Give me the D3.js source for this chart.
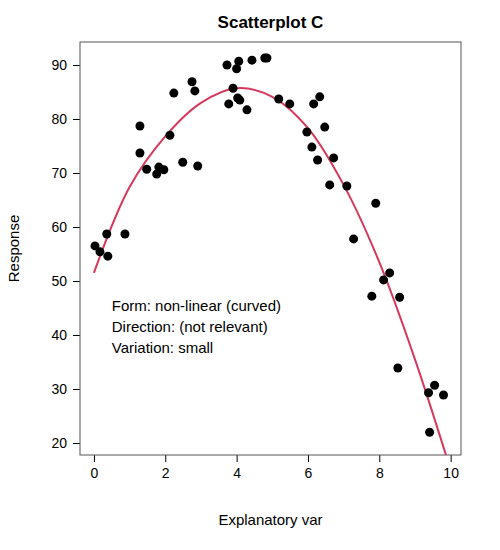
<!DOCTYPE html>
<html>
<head>
<meta charset="UTF-8">
<script src="https://d3js.org/d3.v7.min.js"></script>
<style>
  body { margin: 0; font-family: 'Liberation Sans', Arial, sans-serif; }
</style>
</head>
<body>
<div class="chart"></div>
<script>
const xs = [0.03,0.17,0.36,0.39,0.87,1.29,1.29,1.48,1.76,1.82,1.96,2.13,2.24,2.49,2.75,2.83,2.91,3.73,3.78,3.9,4.0,4.06,4.03,4.09,4.29,4.43,4.79,4.85,5.18,5.49,5.97,6.11,6.16,6.33,6.27,6.47,6.72,6.61,7.09,7.28,7.9,7.79,8.12,8.29,8.57,8.52,9.38,9.55,9.8,9.41];
const ys = [56.5,55.4,58.7,54.6,58.7,78.7,73.7,70.7,69.8,71.1,70.6,77,84.8,72,86.9,85.2,71.3,90,82.8,85.7,89.3,90.7,83.9,83.5,81.7,90.9,91.3,91.3,83.7,82.8,77.6,74.8,82.8,84.1,72.4,78.5,72.8,67.8,67.6,57.8,64.4,47.2,50.2,51.5,47,33.9,29.3,30.7,28.9,22];
const fitX = [0,1,2,3,4,5,6,7,8,9,10];
const fitY = [51.5,67.4,76.8,83,85.7,84.1,78.3,67.8,53.5,35.5,15];
const xTicks = [0,2,4,6,8,10];
const yTicks = [20,30,40,50,60,70,80,90];
const notes = ['Form: non-linear (curved)', 'Direction: (not relevant)', 'Variation: small'];

const W = 500, H = 550;
const L = 80, R = 461, T = 42, B = 455;
const svg = d3.select('.chart').append('svg').attr('width', W).attr('height', H);

const x = d3.scaleLinear().domain([-0.39, 10.29]).range([L, R]);
const y = d3.scaleLinear().domain([17.78, 94.26]).range([B, T]);

svg.append('defs').append('clipPath').attr('id', 'clip')
  .append('rect').attr('x', L).attr('y', T).attr('width', R - L).attr('height', B - T);

svg.append('g').attr('transform', `translate(0,${B})`)
  .call(d3.axisBottom(x).tickValues(xTicks).tickSize(7).tickPadding(6))
  .call(g => g.select('.domain').remove());
svg.append('g').attr('transform', `translate(${L},0)`)
  .call(d3.axisLeft(y).tickValues(yTicks).tickSize(7).tickPadding(6))
  .call(g => g.select('.domain').remove());
svg.selectAll('.tick text').attr('font-size', 14).attr('fill', '#000')
  .attr('font-family', 'Liberation Sans, Arial, sans-serif');
svg.selectAll('.tick line').attr('stroke', '#000');

svg.append('rect').attr('x', L).attr('y', T).attr('width', R - L).attr('height', B - T)
  .attr('fill', 'none').attr('stroke', '#555').attr('stroke-width', 1);

const line = d3.line().x(d => x(d[0])).y(d => y(d[1])).curve(d3.curveCatmullRom);
svg.append('path').datum(d3.zip(fitX, fitY)).attr('d', line)
  .attr('clip-path', 'url(#clip)')
  .attr('fill', 'none').attr('stroke', '#d6385c').attr('stroke-width', 2);

svg.append('g').selectAll('circle').data(d3.zip(xs, ys)).join('circle')
  .attr('cx', d => x(d[0])).attr('cy', d => y(d[1])).attr('r', 4.5).attr('fill', '#000');

svg.append('g').selectAll('text').data(notes).join('text')
  .attr('x', x(0.5)).attr('y', (d, i) => 311 + i * 21)
  .attr('font-size', 15).text(d => d);

svg.append('text').attr('x', (L + R) / 2).attr('y', 28).attr('text-anchor', 'middle')
  .attr('font-size', 17).attr('font-weight', 'bold').text('Scatterplot C');
svg.append('text').attr('x', (L + R) / 2).attr('y', 525).attr('text-anchor', 'middle')
  .attr('font-size', 15).text('Explanatory var');
svg.append('text').attr('transform', 'rotate(-90)').attr('x', -(T + B) / 2).attr('y', 19)
  .attr('text-anchor', 'middle').attr('font-size', 15).text('Response');
</script>
</body>
</html>
